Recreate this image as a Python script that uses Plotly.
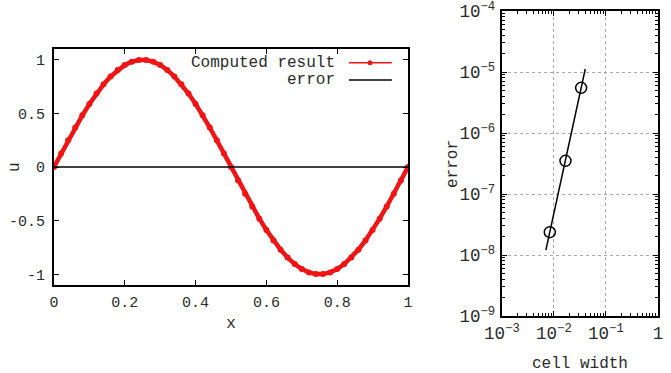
import plotly.graph_objects as go

# ---- data: left panel ----
x_vals = [0.00, 0.02, 0.04, 0.06, 0.08, 0.10, 0.12, 0.14, 0.16, 0.18,
          0.20, 0.22, 0.24, 0.26, 0.28, 0.30, 0.32, 0.34, 0.36, 0.38,
          0.40, 0.42, 0.44, 0.46, 0.48, 0.50, 0.52, 0.54, 0.56, 0.58,
          0.60, 0.62, 0.64, 0.66, 0.68, 0.70, 0.72, 0.74, 0.76, 0.78,
          0.80, 0.82, 0.84, 0.86, 0.88, 0.90, 0.92, 0.94, 0.96, 0.98, 1.00]
u_vals = [0.0, 0.1253, 0.2487, 0.3681, 0.4818, 0.5878, 0.6845, 0.7705, 0.8443, 0.9048,
          0.9511, 0.9823, 0.9980, 0.9980, 0.9823, 0.9511, 0.9048, 0.8443, 0.7705, 0.6845,
          0.5878, 0.4818, 0.3681, 0.2487, 0.1253, 0.0, -0.1253, -0.2487, -0.3681, -0.4818,
          -0.5878, -0.6845, -0.7705, -0.8443, -0.9048, -0.9511, -0.9823, -0.9980, -0.9980, -0.9823,
          -0.9511, -0.9048, -0.8443, -0.7705, -0.6845, -0.5878, -0.4818, -0.3681, -0.2487, -0.1253, 0.0]
err_x = [0.0, 1.0]
err_u = [0.0, 0.0]

x_ticks = [0, 0.2, 0.4, 0.6, 0.8, 1]
x_ticktext = ["0", "0.2", "0.4", "0.6", "0.8", "1"]
u_ticks = [-1, -0.5, 0, 0.5, 1]
u_ticktext = ["-1", "-0.5", "0", "0.5", "1"]

# ---- data: right panel ----
cell_width = [0.00833, 0.01667, 0.03333]
error_vals = [2.37e-8, 3.5e-7, 5.5e-6]
fit_width = [0.007, 0.04]
fit_error = [1.2e-8, 1.12e-5]

FONT = "Liberation Mono, Courier New, monospace"
TXT = "#2a2a2a"
RED = "#f01414"

fig = go.Figure()

fig.add_trace(go.Scatter(x=x_vals, y=u_vals, mode="lines+markers",
                         line=dict(color=RED, width=4.5),
                         marker=dict(color=RED, size=6),
                         name="Computed result", xaxis="x", yaxis="y"))
fig.add_trace(go.Scatter(x=err_x, y=err_u, mode="lines",
                         line=dict(color="black", width=1.5),
                         name="error", xaxis="x", yaxis="y"))

fig.add_trace(go.Scatter(x=fit_width, y=fit_error, mode="lines",
                         line=dict(color="black", width=1.5),
                         xaxis="x2", yaxis="y2"))
fig.add_trace(go.Scatter(x=cell_width, y=error_vals, mode="markers",
                         marker=dict(symbol="circle-open", size=11,
                                     color="black", line=dict(width=1.5)),
                         xaxis="x2", yaxis="y2"))

axis_common = dict(showline=True, linecolor="black", linewidth=1.8, mirror="ticks",
                   ticks="inside", tickcolor="black", ticklen=5, tickwidth=1,
                   zeroline=False, automargin=False, ticklabeloverflow="allow")
left_font = dict(family=FONT, size=15, color=TXT)
right_font = dict(family=FONT, size=14, color=TXT)

fig.update_layout(
    width=671, height=373,
    margin=dict(l=0, r=0, t=0, b=0),
    paper_bgcolor="white", plot_bgcolor="white",
    showlegend=False,
    font=dict(family=FONT, size=15, color=TXT),
    xaxis=dict(domain=[0.0805, 0.608], range=[0, 1], anchor="y",
               tickvals=x_ticks, ticktext=x_ticktext, showgrid=False,
               ticklabelstandoff=2, tickfont=left_font,
               title=dict(text="x", standoff=6, font=dict(family=FONT, size=16, color=TXT)),
               **axis_common),
    yaxis=dict(domain=[0.2359, 0.8686], range=[-1.1, 1.1], anchor="x",
               tickvals=u_ticks, ticktext=u_ticktext, showgrid=False,
               ticklabelstandoff=4, tickfont=left_font,
               **axis_common),
    xaxis2=dict(domain=[0.748, 0.9806], type="log", range=[-3, 0], anchor="y2",
                dtick=1, exponentformat="power", showexponent="all",
                showgrid=True, gridcolor="#aaaaaa", griddash="dot", gridwidth=1,
                minor=dict(ticks="inside", ticklen=3, tickcolor="black", showgrid=False),
                ticklabelstandoff=1, tickfont=right_font,
                title=dict(text="cell width", standoff=18, font=dict(family=FONT, size=16, color=TXT)),
                **axis_common),
    yaxis2=dict(domain=[0.1528, 0.9705], type="log", range=[-9, -4], anchor="x2",
                dtick=1, exponentformat="power", showexponent="all",
                showgrid=True, gridcolor="#aaaaaa", griddash="dot", gridwidth=1,
                minor=dict(ticks="inside", ticklen=3, tickcolor="black", showgrid=False),
                ticklabelstandoff=2, tickfont=right_font,
                **axis_common),
)

# y-axis titles placed as in the reference
fig.add_annotation(xref="paper", yref="paper", x=15 / 671, y=1 - 167 / 373, text="u",
                   textangle=-90, showarrow=False, xanchor="center", yanchor="middle",
                   font=dict(family=FONT, size=16, color=TXT))
fig.add_annotation(xref="paper", yref="paper", x=453 / 671, y=1 - 164 / 373, text="error",
                   textangle=-90, showarrow=False, xanchor="center", yanchor="middle",
                   font=dict(family=FONT, size=16, color=TXT))

# gnuplot-style legend (text right-aligned, sample to the right)
legend_items = [("Computed result", RED, True, 0.8319), ("error", "black", False, 0.7855)]
for label, col, dot, ypos in legend_items:
    fig.add_annotation(xref="paper", yref="paper", x=0.5018, y=ypos, text=label,
                       showarrow=False, xanchor="right", yanchor="middle",
                       font=dict(family=FONT, size=16, color=TXT))
    fig.add_shape(type="line", xref="paper", yref="paper", x0=0.520, x1=0.584,
                  y0=ypos, y1=ypos, line=dict(color=col, width=1.5))
    if dot:
        fig.add_shape(type="circle", xref="paper", yref="paper",
                      x0=0.5514 - 0.0037, x1=0.5514 + 0.0037,
                      y0=ypos - 0.0067, y1=ypos + 0.0067,
                      fillcolor=col, line=dict(color=col, width=0))

fig.write_html("out.html")
